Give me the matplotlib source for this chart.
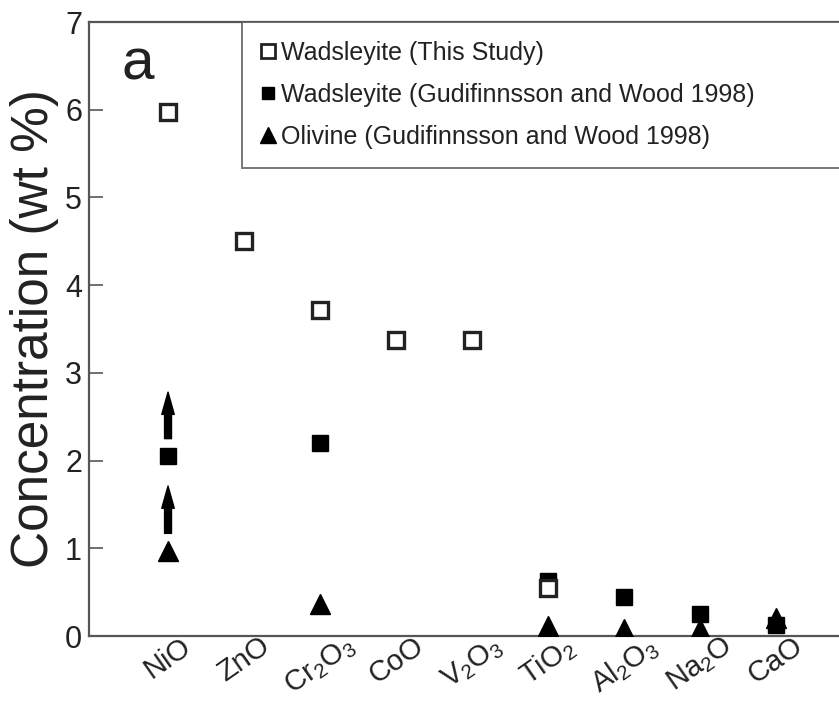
import numpy as np
import matplotlib
matplotlib.use("Agg")
import matplotlib.pyplot as plt
from matplotlib.lines import Line2D

plt.rcParams['font.family'] = ['Liberation Sans', 'DejaVu Sans']
plt.rcParams['mathtext.fontset'] = 'custom'
plt.rcParams['mathtext.rm'] = 'Liberation Sans'
plt.rcParams['mathtext.it'] = 'Liberation Sans:italic'

# oxides along the x axis
oxides = ['NiO', 'ZnO', r'Cr$_\mathregular{2}$O$_\mathregular{3}$', 'CoO',
          r'V$_\mathregular{2}$O$_\mathregular{3}$', r'TiO$_\mathregular{2}$',
          r'Al$_\mathregular{2}$O$_\mathregular{3}$', r'Na$_\mathregular{2}$O', 'CaO']

# wadsleyite, this study (NaN = not measured)
wad_this = [5.97, 4.50, 3.72, 3.38, 3.38, 0.55, np.nan, np.nan, np.nan]
# wadsleyite, Gudifinnsson and Wood 1998
wad_gw = [2.05, np.nan, 2.20, np.nan, np.nan, 0.63, 0.44, 0.25, 0.12]
# olivine, Gudifinnsson and Wood 1998
oli_gw = [0.97, np.nan, 0.36, np.nan, np.nan, 0.11, 0.08, 0.08, 0.20]

# NiO values are lower limits
arrow_tail = [2.25, 1.17]
arrow_tip = [2.78, 1.71]

txt = '#222222'
spine = '#555555'

fig = plt.figure(figsize=(8.39, 7.01), dpi=100)
ax = fig.add_axes([89 / 839, 65 / 701, 1 - 89 / 839, (636 - 22) / 701])

x = np.arange(len(oxides))
ax.plot(x, oli_gw, ls='none', marker='^', ms=15, color='black', mec='black', zorder=3)
ax.plot(x, wad_gw, ls='none', marker='s', ms=11, color='black', mec='black', zorder=4)
ax.plot(x, wad_this, ls='none', marker='s', ms=11.5, mfc='white', mec='#222222',
        mew=2.4, zorder=5)

for t0, t1 in zip(arrow_tail, arrow_tip):
    ax.annotate('', xy=(0, t1), xytext=(0, t0),
                arrowprops=dict(width=5, headwidth=9, headlength=16,
                                facecolor='black', edgecolor='black', shrink=0))

ax.set_xlim(-1.04, 8.83)
ax.set_ylim(0, 7)
ax.set_yticks(range(8))
ax.set_xticks(x)
ax.set_xticklabels(oxides, rotation=35, ha='center', fontsize=21, color=txt)
ax.tick_params(axis='x', length=0, pad=-3)
ax.tick_params(axis='y', direction='in', length=10, width=1.2, color=spine,
               labelsize=22, labelcolor=txt, pad=5)
ax.set_ylabel('Concentration (wt %)', fontsize=37, color=txt, labelpad=4)

for s in ['left', 'bottom', 'top']:
    ax.spines[s].set_color(spine)
    ax.spines[s].set_linewidth(1.6)
ax.spines['right'].set_visible(False)

ax.text(0.044, 0.975, 'a', transform=ax.transAxes, fontsize=42, color=txt,
        va='top', ha='left')

handles = [
    Line2D([], [], ls='none', marker='s', ms=10, mfc='white', mec='#222222', mew=2),
    Line2D([], [], ls='none', marker='s', ms=9, color='black'),
    Line2D([], [], ls='none', marker='^', ms=11, color='black'),
]
labels = ['Wadsleyite (This Study)',
          'Wadsleyite (Gudifinnsson and Wood 1998)',
          'Olivine (Gudifinnsson and Wood 1998)']
x0 = (242 - 89) / 750
leg = ax.legend(handles, labels, loc='upper left', mode='expand',
                bbox_to_anchor=(x0, 0, 1.2 - x0, 1.0), fontsize=18,
                handlelength=0.55, handletextpad=0.25, labelspacing=0.72,
                borderaxespad=0, borderpad=0.75, fancybox=False, frameon=True,
                labelcolor=txt)
leg.get_frame().set_edgecolor(spine)
leg.get_frame().set_linewidth(1.4)

fig.savefig('out.png', dpi=100)
